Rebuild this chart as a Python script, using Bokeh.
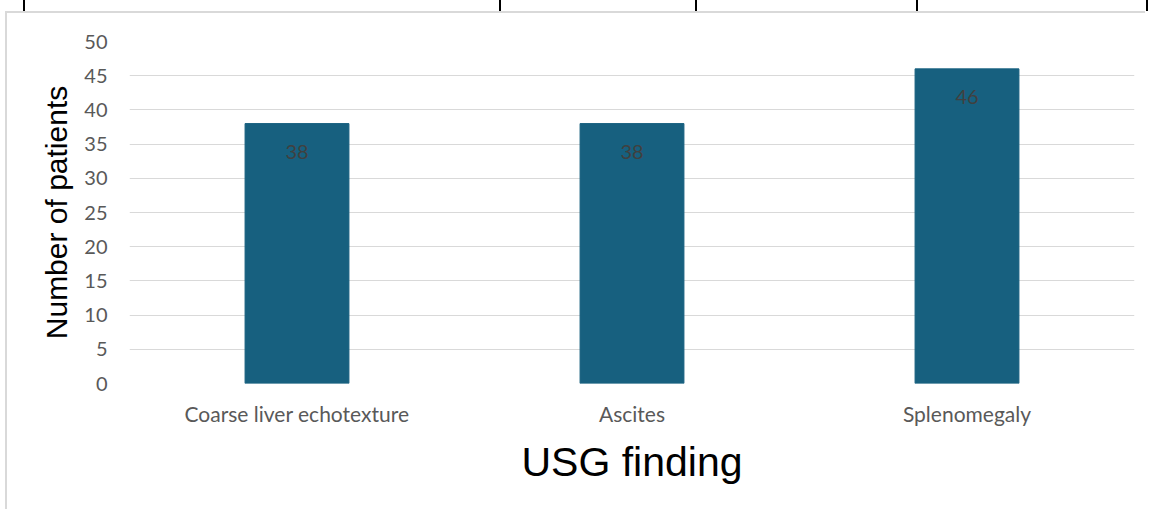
from bokeh.plotting import figure
from bokeh.models import ColumnDataSource, Range1d, FactorRange, FixedTicker, InlineStyleSheet
from bokeh.core.properties import value
from bokeh.embed import file_html
from bokeh.resources import INLINE

categories = ["Coarse liver echotexture", "Ascites", "Splenomegaly"]
patients = [38, 38, 46]
y_ticks = [0, 5, 10, 15, 20, 25, 30, 35, 40, 45, 50]

src = ColumnDataSource(dict(cat=categories, val=patients, lab=[str(v) for v in patients]))

# figure placed on the page via CSS margin, with a light border (the chart's frame)
p = figure(width=1140, height=498, output_backend="svg", toolbar_location=None,
           x_range=FactorRange(*categories, range_padding=0),
           y_range=Range1d(0, 50),
           min_border_left=122, min_border_right=13, min_border_top=28, min_border_bottom=128)
p.styles = {"margin-left": "5px", "margin-top": "11px",
            "border-left": "2px solid #d9d9d9", "border-top": "2px solid #d9d9d9"}
# cropped table rules above the chart
p.stylesheets = [InlineStyleSheet(css="""
:host::before {
  content: ''; position: absolute; left: 16px; top: -13px; width: 1126px; height: 11px;
  background-image: linear-gradient(#000,#000), linear-gradient(#000,#000), linear-gradient(#000,#000),
                    linear-gradient(#000,#000), linear-gradient(#000,#000);
  background-size: 2px 11px;
  background-repeat: no-repeat;
  background-position: 0px 0px, 476px 0px, 672px 0px, 893px 0px, 1123px 0px;
}
""")]
p.outline_line_color = None

p.vbar(x="cat", top="val", width=0.31, source=src, color="#17607F")
p.text(x="cat", y="val", text="lab", source=src, text_align="center", text_baseline="middle",
       y_offset=28, text_color="#404040", text_font=value("Lato"), text_font_size="20px")

p.yaxis.ticker = FixedTicker(ticks=y_ticks)
p.ygrid.grid_line_color = "#d9d9d9"
p.ygrid.grid_line_width = 1
p.xgrid.grid_line_color = None

for ax in (p.xaxis, p.yaxis):
    ax.axis_line_color = None
    ax.major_tick_line_color = None
    ax.minor_tick_line_color = None
    ax.major_label_text_color = "#595959"
    ax.major_label_text_font = "Lato"
    ax.major_label_text_font_size = "21px"
    ax.axis_label_text_font = "Liberation Sans"
    ax.axis_label_text_font_style = "normal"
    ax.axis_label_text_color = "#000000"

p.yaxis.major_label_text_font_size = "20px"
p.yaxis.major_label_standoff = 16
p.yaxis.axis_label = "Number of patients"
p.yaxis.axis_label_text_font_size = "30px"
p.yaxis.axis_label_standoff = 8

p.xaxis.major_label_standoff = 11
p.xaxis.axis_label = "USG finding"
p.xaxis.axis_label_text_font_size = "41px"
p.xaxis.axis_label_standoff = 10

open("out.html", "w").write(file_html(p, INLINE))
